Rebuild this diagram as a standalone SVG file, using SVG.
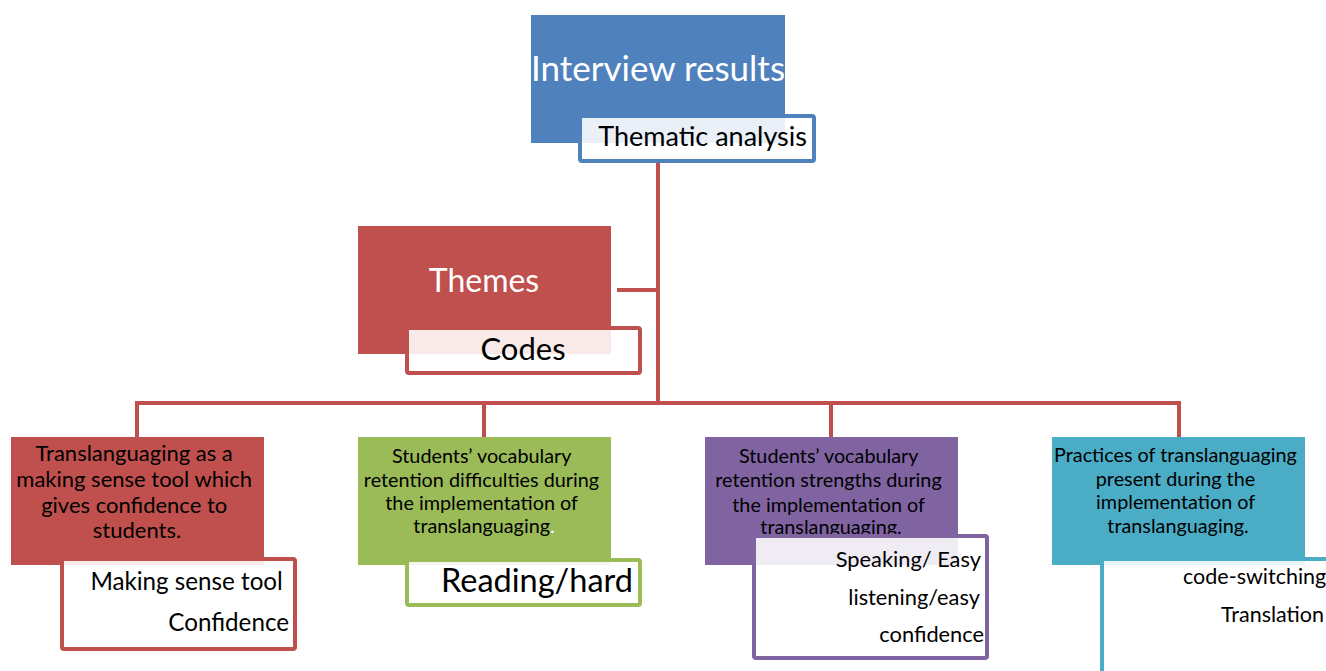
<svg xmlns="http://www.w3.org/2000/svg" width="1326" height="671" viewBox="0 0 1326 671">
<style>
  text { font-family: Lato, "Open Sans", "Liberation Sans", sans-serif; }
  .conn { fill: none; stroke: #C0504D; stroke-width: 4; }
  .sub { fill: #FFFFFF; fill-opacity: 0.88; stroke-width: 4; }
  .w { fill: #FFFFFF; }
  .k { fill: #000000; }
  .c { text-anchor: middle; }
  .r { text-anchor: end; }
</style>
<rect width="1326" height="671" fill="#FFFFFF"/>
<g id="connectors">
  <path class="conn" d="M658 162 V403"/>
  <path class="conn" d="M617 290 H658"/>
  <path class="conn" d="M137 437 V403 H1179 V437"/>
  <path class="conn" d="M484 403 V437"/>
  <path class="conn" d="M831 403 V437"/>
</g>
<g id="interview">
  <rect x="531" y="15" width="254" height="128" fill="#4F81BD"/>
  <text x="658" y="81" class="w c" font-size="35">Interview results</text>
  <rect x="580" y="116" width="234" height="45" rx="2" class="sub" stroke="#4F81BD"/>
  <text x="807" y="146" class="k r" font-size="27">Thematic analysis</text>
</g>
<g id="themes">
  <rect x="358" y="226" width="253" height="128" fill="#C0504D"/>
  <text x="484" y="292" class="w c" font-size="32">Themes</text>
  <rect x="407" y="328" width="233" height="45" rx="2" class="sub" stroke="#C0504D"/>
  <text x="523" y="360" class="k c" font-size="31">Codes</text>
</g>
<g id="theme1">
  <rect x="11" y="437" width="253" height="128" fill="#C0504D"/>
  <text class="k c" font-size="22">
    <tspan x="137" y="461">Translanguaging as a</tspan>
    <tspan x="137" y="487">making sense tool which</tspan>
    <tspan x="137" y="513">gives confidence to</tspan>
    <tspan x="137" y="538">students.</tspan>
  </text>
  <rect x="62" y="559" width="233" height="90" rx="2" class="sub" stroke="#C0504D"/>
  <text class="k r" font-size="24.2">
    <tspan x="289" y="590">Making sense tool</tspan>
    <tspan x="289" y="631">Confidence</tspan>
  </text>
</g>
<g id="theme2">
  <rect x="358" y="437" width="253" height="128" fill="#9BBB59"/>
  <text class="k c" font-size="19.8">
    <tspan x="484" y="463">Students’ vocabulary</tspan>
    <tspan x="484" y="487">retention difficulties during</tspan>
    <tspan x="484" y="510">the implementation of</tspan>
    <tspan x="484" y="533">translanguaging<tspan class="w">.</tspan></tspan>
  </text>
  <rect x="407" y="560" width="233" height="45" rx="2" class="sub" stroke="#9BBB59"/>
  <text x="633" y="592" class="k r" font-size="32.5">Reading/hard</text>
</g>
<g id="theme3">
  <rect x="705" y="437" width="253" height="128" fill="#8064A2"/>
  <text class="k c" font-size="19.8">
    <tspan x="831" y="463">Students’ vocabulary</tspan>
    <tspan x="831" y="487">retention strengths during</tspan>
    <tspan x="831" y="512">the implementation of</tspan>
    <tspan x="831" y="534">translanguaging.</tspan>
  </text>
  <rect x="754" y="536" width="233" height="122" rx="2" class="sub" stroke="#8064A2"/>
  <text class="k r" font-size="21.8">
    <tspan x="986" y="567">Speaking/ Easy</tspan>
    <tspan x="985" y="605">listening/easy</tspan>
    <tspan x="984" y="642">confidence</tspan>
  </text>
</g>
<g id="theme4">
  <rect x="1052" y="437" width="253" height="128" fill="#4BACC6"/>
  <text class="k c" font-size="19.8">
    <tspan x="1178" y="462">Practices of translanguaging</tspan>
    <tspan x="1178" y="486">present during the</tspan>
    <tspan x="1178" y="509">implementation of</tspan>
    <tspan x="1178" y="533">translanguaging.</tspan>
  </text>
  <rect x="1102" y="559" width="233" height="130" rx="2" class="sub" stroke="#4BACC6"/>
  <text class="k" font-size="21.5">
    <tspan x="1183" y="584">code-switching</tspan>
    <tspan x="1221" y="622">Translation</tspan>
  </text>
</g>
</svg>
